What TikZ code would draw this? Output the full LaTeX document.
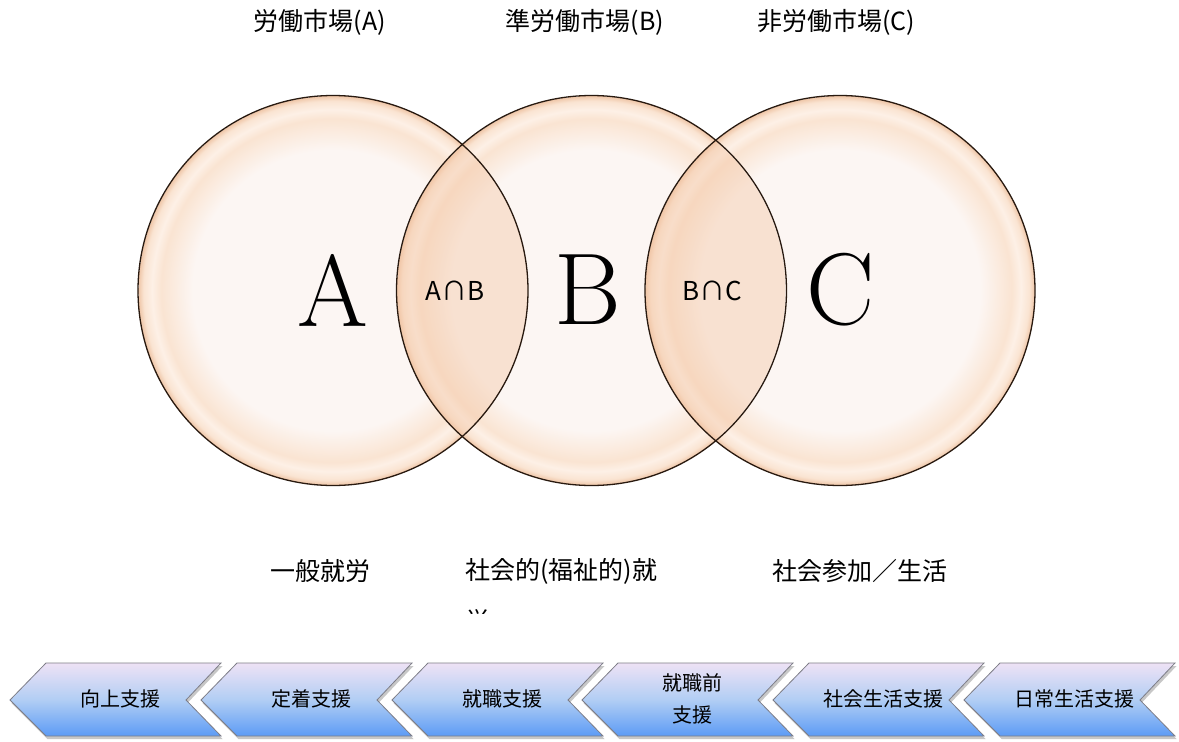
\documentclass[tikz,border=0pt]{standalone}
\usepackage{fontspec}
\newfontfamily\jp{Noto Sans CJK JP}
\definecolor{bin}{RGB}{252,246,243}
\definecolor{bmid}{RGB}{250,228,210}
\definecolor{bhi}{RGB}{253,240,230}
\definecolor{bout}{RGB}{238,196,165}
\definecolor{lenscol}{RGB}{244,200,168}
\definecolor{rimcol}{RGB}{40,25,15}
\definecolor{chtop}{RGB}{238,226,245}
\definecolor{chmid}{RGB}{178,206,244}
\definecolor{chbot}{RGB}{92,155,245}
\definecolor{chline}{RGB}{125,125,135}
\pgfdeclareradialshading{bubble}{\pgfpoint{0bp}{0bp}}{color(0bp)=(bin);color(18bp)=(bin);color(22bp)=(bmid);color(23.2bp)=(bhi);color(24.3bp)=(bmid);color(25bp)=(bout)}
\begin{document}
\begin{tikzpicture}[x=1pt,y=-1pt,
  bubblefill/.style={shading=bubble},
  rim/.style={draw=rimcol,line width=1.3pt},
  lensfill/.style={fill=lenscol,fill opacity=0.45},
  toplabel/.style={font=\jp\fontsize{25}{30}\selectfont,inner sep=0pt},
  botlabel/.style={font=\jp\fontsize{25}{40}\selectfont,inner sep=0pt,anchor=west},
  bigletter/.style={font=\fontsize{102}{102}\selectfont,inner sep=0pt},
  capletter/.style={font=\jp\fontsize{26}{30}\selectfont,inner sep=0pt},
  chevron/.style={draw=chline,line width=0.8pt,top color=chtop,bottom color=chbot,middle color=chmid},
  chshadow/.style={fill=black,fill opacity=0.22},
  chtext/.style={font=\jp\fontsize{20}{32}\selectfont,inner sep=0pt,align=center}]
\useasboundingbox (0,0) rectangle (1179,742);
\fill[white] (0,0) rectangle (1179,742);

% circle centres
\coordinate (cA) at (333,290.5);
\coordinate (cB) at (591.5,290.5);
\coordinate (cC) at (840,290.5);

% circles
\foreach \c in {cA,cB,cC}{
  \path[bubblefill] (\c) circle[radius=195pt];
}
% lenses
\begin{scope}
  \clip (cA) circle[radius=195pt];
  \fill[lensfill] (cB) circle[radius=194pt];
\end{scope}
\begin{scope}
  \clip (cB) circle[radius=194pt];
  \fill[lensfill] (cC) circle[radius=195pt];
\end{scope}
\foreach \c in {cA,cB,cC}{
  \draw[rim] (\c) circle[radius=195pt];
}

% letters
\node[bigletter] (lA) at (333,290) {A};
\node[bigletter] (lB) at (588,290) {B};
\node[bigletter] (lC) at (841,290) {C};
\node[capletter] (lAB) at (455,291) {A∩B};
\node[capletter] (lBC) at (712,291) {B∩C};

% top labels
\node[toplabel] (tA) at (320,22) {労働市場(A)};
\node[toplabel] (tB) at (585,22) {準労働市場(B)};
\node[toplabel] (tC) at (836,22) {非労働市場(C)};

% bottom labels
\node[botlabel] (bA) at (270,571) {一般就労};
\node[botlabel] (bB) at (465,571) {社会的(福祉的)就};
\begin{scope}
  \clip (440,590) rectangle (720,613);
  \node[botlabel] (bB2) at (465,621) {労};
\end{scope}
\node[botlabel] (bC) at (772,571) {社会参加／生活};

% chevrons
\foreach \t/\lab [count=\i] in {10/向上支援,201/定着支援,392/就職支援,582/{就職前\\支援},773/社会生活支援,964/日常生活支援}{
  \fill[chshadow] (\t+1.5,703) -- ++(36,-37) -- ++(175,0) -- ++(-35,37) -- ++(35,36) -- ++(-175,0) -- cycle;
  \path[chevron] (\t,700) -- ++(36,-37) -- ++(175,0) -- ++(-35,37) -- ++(35,36) -- ++(-175,0) -- cycle;
  \node[chtext] (ch\i) at (\t+110,699) {\lab};
}
\end{tikzpicture}
\end{document}
